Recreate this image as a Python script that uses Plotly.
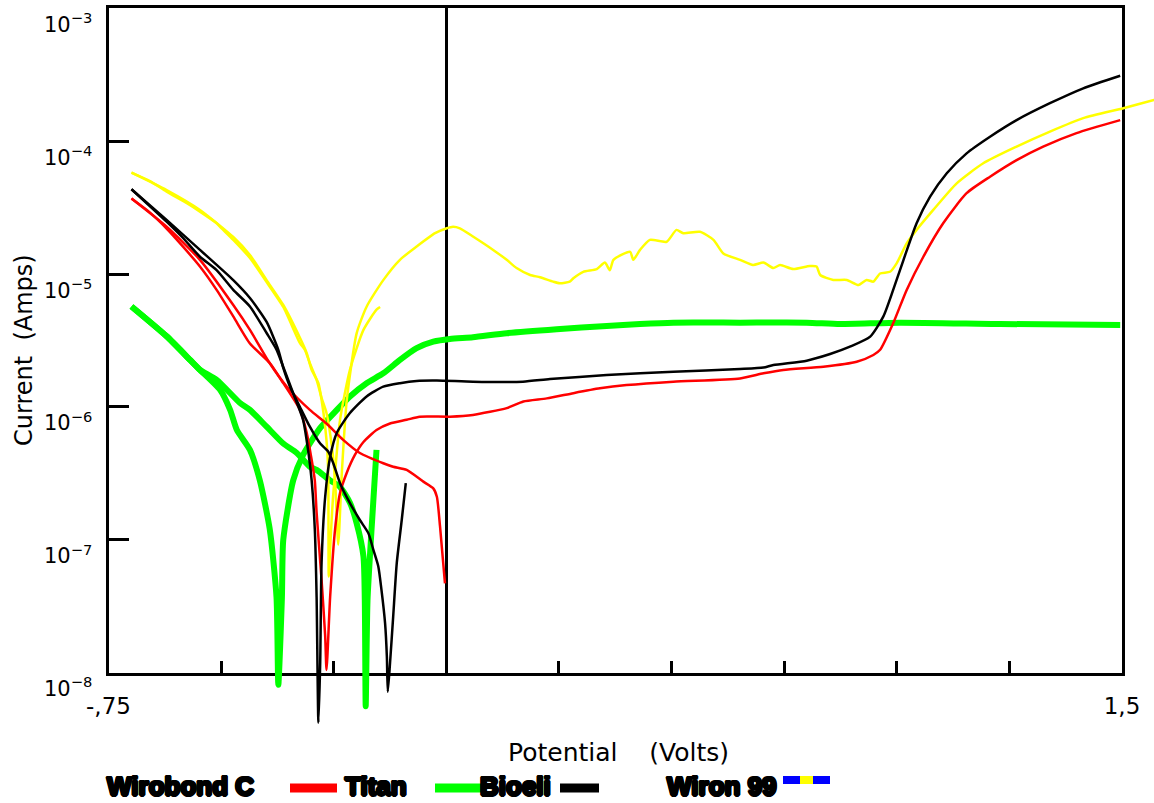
import plotly.graph_objects as go

W, H = 1154, 803

# ---------------- data (potential in V, current in A) ----------------
# Wirobond C (red) - scan 1 (full sweep) and scan 2 (short cathodic sweep)
wirobond1_v = [-0.699, -0.658, -0.621, -0.584, -0.547, -0.510, -0.473, -0.436, -0.392, -0.362,
               -0.325, -0.310, -0.299, -0.292, -0.288, -0.277, -0.269, -0.266, -0.258, -0.247,
               -0.236, -0.221, -0.203, -0.184, -0.155, -0.125, -0.088, -0.059, 0.008, 0.059,
               0.134, 0.171, 0.223, 0.282, 0.341, 0.400, 0.504, 0.652, 0.704, 0.748,
               0.837, 0.911, 0.948, 0.963, 0.992, 1.022, 1.059, 1.103, 1.155, 1.207,
               1.266, 1.325, 1.399, 1.496]
wirobond1_i = [3.7e-5, 2.9e-5, 2.2e-5, 1.6e-5, 1.14e-5, 7.6e-6, 4.8e-6, 3.0e-6, 2.14e-6, 1.51e-6,
               9.5e-7, 6.4e-7, 4.0e-7, 2.8e-7, 1.6e-7, 5.0e-8, 1.9e-8, 1.05e-8, 3.7e-8, 1.2e-7,
               2.25e-7, 3.2e-7, 4.35e-7, 5.45e-7, 6.7e-7, 7.5e-7, 8.0e-7, 8.45e-7, 8.45e-7, 8.7e-7,
               9.8e-7, 1.10e-6, 1.16e-6, 1.27e-6, 1.38e-6, 1.46e-6, 1.55e-6, 1.64e-6, 1.79e-6, 1.90e-6,
               2.01e-6, 2.19e-6, 2.46e-6, 2.69e-6, 4.26e-6, 7.6e-6, 1.35e-5, 2.41e-5, 4.06e-5, 5.4e-5,
               7.2e-5, 9.1e-5, 1.15e-4, 1.44e-4]
wirobond2_v = [-0.699, -0.621, -0.547, -0.473, -0.436, -0.392, -0.354, -0.303, -0.266, -0.229,
               -0.192, -0.140, -0.118, -0.088, -0.051, -0.029, -0.021, -0.014, -0.003]
wirobond2_i = [3.7e-5, 2.27e-5, 1.28e-5, 5.85e-6, 3.8e-6, 2.13e-6, 1.42e-6, 9.5e-7, 7.5e-7, 5.65e-7,
               4.5e-7, 3.77e-7, 3.55e-7, 3.36e-7, 2.74e-7, 2.44e-7, 2.11e-7, 1.26e-7, 4.7e-8]

# Titan (green)
titan1_v = [-0.699, -0.621, -0.569, -0.547, -0.502, -0.480, -0.465, -0.436, -0.414, -0.392,
            -0.377, -0.373, -0.365, -0.362, -0.340, -0.318, -0.280, -0.243, -0.214, -0.177,
            -0.140, -0.103, -0.066, -0.029, 0.008, 0.059, 0.134, 0.245, 0.356, 0.430,
            0.504, 0.652, 0.800, 0.874, 1.007, 1.229, 1.496]
titan1_i = [5.7e-6, 3.4e-6, 2.26e-6, 1.9e-6, 1.34e-6, 9.5e-7, 6.7e-7, 4.75e-7, 2.8e-7, 1.2e-7,
            3.7e-8, 8.1e-9, 3.7e-8, 1.0e-7, 2.8e-7, 4.35e-7, 6.95e-7, 9.5e-7, 1.2e-6, 1.51e-6,
            1.79e-6, 2.26e-6, 2.77e-6, 3.1e-6, 3.25e-6, 3.35e-6, 3.59e-6, 3.84e-6, 4.07e-6, 4.21e-6,
            4.31e-6, 4.31e-6, 4.31e-6, 4.21e-6, 4.31e-6, 4.21e-6, 4.14e-6]
titan2_v = [-0.699, -0.621, -0.569, -0.547, -0.510, -0.458, -0.436, -0.399, -0.362, -0.332,
            -0.303, -0.288, -0.258, -0.236, -0.214, -0.199, -0.184, -0.181, -0.179, -0.175,
            -0.166, -0.155]
titan2_i = [5.7e-6, 3.4e-6, 2.26e-6, 1.9e-6, 1.6e-6, 1.07e-6, 9.5e-7, 7.1e-7, 5.3e-7, 4.5e-7,
            3.55e-7, 3.36e-7, 2.8e-7, 2.5e-7, 1.9e-7, 1.33e-7, 7.5e-8, 3.5e-8, 5.6e-9, 3.5e-8,
            1.2e-7, 4.75e-7]

# Bioeli (black)
bioeli1_v = [-0.699, -0.621, -0.584, -0.547, -0.510, -0.473, -0.436, -0.399, -0.377, -0.362,
             -0.340, -0.318, -0.306, -0.299, -0.292, -0.288, -0.284, -0.280, -0.277, -0.269,
             -0.258, -0.243, -0.214, -0.177, -0.140, -0.103, -0.066, -0.021, 0.059, 0.170,
             0.230, 0.356, 0.504, 0.652, 0.704, 0.726, 0.800, 0.852, 0.896, 0.941,
             0.970, 0.992, 1.015, 1.044, 1.074, 1.111, 1.155, 1.207, 1.266, 1.340,
             1.414, 1.496]
bioeli1_i = [4.35e-5, 2.48e-5, 1.86e-5, 1.35e-5, 1.07e-5, 7.6e-6, 5.7e-6, 3.6e-6, 2.7e-6, 2.0e-6,
             1.27e-6, 8.0e-7, 4.5e-7, 2.8e-7, 1.2e-7, 3.7e-8, 4.2e-9, 1.2e-8, 6.7e-8, 2.1e-7,
             4.2e-7, 6.4e-7, 9.0e-7, 1.20e-6, 1.42e-6, 1.51e-6, 1.57e-6, 1.58e-6, 1.55e-6, 1.55e-6,
             1.62e-6, 1.74e-6, 1.84e-6, 1.93e-6, 1.98e-6, 2.07e-6, 2.23e-6, 2.50e-6, 2.84e-6, 3.38e-6,
             4.78e-6, 7.6e-6, 1.28e-5, 2.41e-5, 3.82e-5, 5.73e-5, 8.1e-5, 1.08e-4, 1.44e-4, 1.93e-4,
             2.50e-4, 3.11e-4]
bioeli2_v = [-0.699, -0.621, -0.547, -0.473, -0.436, -0.399, -0.373, -0.362, -0.347, -0.325,
             -0.303, -0.280, -0.262, -0.251, -0.236, -0.214, -0.192, -0.173, -0.162, -0.151,
             -0.144, -0.136, -0.132, -0.130, -0.125, -0.118, -0.110, -0.099, -0.090]
bioeli2_i = [4.35e-5, 2.55e-5, 1.52e-5, 9.0e-6, 6.6e-6, 4.36e-6, 2.69e-6, 1.97e-6, 1.42e-6, 1.0e-6,
             7.1e-7, 5.3e-7, 4.6e-7, 3.77e-7, 2.67e-7, 1.89e-7, 1.41e-7, 1.12e-7, 8.4e-8, 6.3e-8,
             4.2e-8, 2.36e-8, 1.32e-8, 7.2e-9, 1.18e-8, 2.64e-8, 6.7e-8, 1.41e-7, 2.67e-7]

# Wiron 99 (yellow)
wiron1_v = [-0.699, -0.658, -0.621, -0.576, -0.547, -0.510, -0.499, -0.473, -0.436, -0.399,
            -0.362, -0.325, -0.314, -0.303, -0.288, -0.277, -0.266, -0.254, -0.247, -0.240,
            -0.232, -0.221, -0.199, -0.177, -0.140, -0.103, -0.066, -0.025, 0.001, 0.015,
            0.030, 0.060, 0.104, 0.134, 0.156, 0.186, 0.208, 0.237, 0.252, 0.274,
            0.282, 0.304, 0.334, 0.352, 0.363, 0.371, 0.408, 0.415, 0.430, 0.452,
            0.489, 0.511, 0.526, 0.563, 0.593, 0.615, 0.652, 0.681, 0.704, 0.726,
            0.741, 0.770, 0.807, 0.822, 0.830, 0.859, 0.889, 0.915, 0.933, 0.948,
            0.963, 0.985, 1.000, 1.022, 1.044, 1.081, 1.133, 1.192, 1.266, 1.340,
            1.414, 1.503, 1.571, 1.595]
wiron1_i = [5.8e-5, 5.0e-5, 4.17e-5, 3.41e-5, 2.95e-5, 2.41e-5, 2.21e-5, 1.81e-5, 1.32e-5, 8.7e-6,
            5.65e-6, 3.02e-6, 2.69e-6, 2.13e-6, 1.60e-6, 1.17e-6, 9.0e-7, 5.0e-7, 2.8e-7, 9.2e-8,
            3.2e-7, 1.13e-6, 3.59e-6, 5.68e-6, 9.0e-6, 1.28e-5, 1.61e-5, 2.03e-5, 2.21e-5, 2.27e-5,
            2.21e-5, 1.91e-5, 1.52e-5, 1.28e-5, 1.11e-5, 9.84e-6, 9.46e-6, 8.77e-6, 8.53e-6, 8.77e-6,
            9.30e-6, 1.04e-5, 1.09e-5, 1.22e-5, 1.07e-5, 1.28e-5, 1.47e-5, 1.28e-5, 1.52e-5, 1.81e-5,
            1.75e-5, 2.15e-5, 2.03e-5, 2.08e-5, 1.81e-5, 1.43e-5, 1.28e-5, 1.17e-5, 1.22e-5, 1.11e-5,
            1.17e-5, 1.09e-5, 1.15e-5, 1.14e-5, 9.84e-6, 9.03e-6, 9.03e-6, 8.28e-6, 9.03e-6, 8.77e-6,
            1.01e-5, 1.04e-5, 1.21e-5, 1.70e-5, 2.15e-5, 3.04e-5, 4.82e-5, 6.82e-5, 9.1e-5, 1.18e-4,
            1.49e-4, 1.77e-4, 2.04e-4, 2.15e-4]
wiron2_v = [-0.699, -0.621, -0.547, -0.473, -0.436, -0.399, -0.362, -0.325, -0.310, -0.299,
            -0.284, -0.277, -0.269, -0.264, -0.262, -0.261, -0.257, -0.252, -0.247, -0.236,
            -0.214, -0.184, -0.155, -0.147]
wiron2_i = [5.8e-5, 4.29e-5, 3.04e-5, 1.9e-5, 1.39e-5, 9.0e-6, 5.85e-6, 3.31e-6, 2.54e-6, 1.9e-6,
            1.51e-6, 1.13e-6, 7.1e-7, 4.5e-7, 2.8e-7, 5.3e-8, 1.0e-7, 2.0e-7, 3.2e-7, 8.0e-7,
            1.9e-6, 3.8e-6, 5.4e-6, 5.65e-6]

# axis ticks / labels
x_label_vals = [-0.75, 1.5]
x_label_text = ["-,75", "1,5"]
x_minor_step = 0.25
y_tick_vals = [1e-8, 1e-7, 1e-6, 1e-5, 1e-4, 1e-3]
y_tick_text = ["10<sup>\u22128</sup>", "10<sup>\u22127</sup>", "10<sup>\u22126</sup>",
               "10<sup>\u22125</sup>", "10<sup>\u22124</sup>", "10<sup>\u22123</sup>"]
x_title = "Potential\u00a0\u00a0\u00a0 (Volts)"
y_title = "Current\u00a0 (Amps)"
legend_labels = ["Wirobond C", "Titan", "Bioeli", "Wiron 99"]

# ---------------- geometry (pixels) ----------------
FRAME_L, FRAME_R, FRAME_T, FRAME_B = 108.5, 1122.0, 8.3, 672.7
EXT_R, EXT_B = 1154.0, 740.0
X0, X1 = -0.75, 1.5
Y0, Y1 = -8.0, -3.0

def px(xp):
    return xp / W

def py(yp):
    return 1 - yp / H

x2_max = X0 + (EXT_R - FRAME_L) * (X1 - X0) / (FRAME_R - FRAME_L)
y2_min = Y0 - (EXT_B - FRAME_B) * (Y1 - Y0) / (FRAME_B - FRAME_T)

FONT = "DejaVu Sans, Liberation Sans, Arial, sans-serif"
LEG_FONT = "Liberation Sans, Arial, sans-serif"
RED, GREEN, BLACK, YELLOW, BLUE = "#ff0000", "#00ff00", "#000000", "#ffff00", "#0000ff"

fig = go.Figure()

# empty trace keeps the framed subplot alive
fig.add_trace(go.Scatter(x=[None], y=[None], xaxis="x", yaxis="y", showlegend=False,
                         hoverinfo="skip"))

series = [
    (titan1_v, titan1_i, GREEN, 6, "Titan"),
    (titan2_v, titan2_i, GREEN, 6, "Titan"),
    (wiron1_v, wiron1_i, YELLOW, 2.5, "Wiron 99"),
    (wiron2_v, wiron2_i, YELLOW, 2.5, "Wiron 99"),
    (wirobond1_v, wirobond1_i, RED, 2.5, "Wirobond C"),
    (wirobond2_v, wirobond2_i, RED, 2.5, "Wirobond C"),
    (bioeli1_v, bioeli1_i, BLACK, 2.5, "Bioeli"),
    (bioeli2_v, bioeli2_i, BLACK, 2.5, "Bioeli"),
]
for xv, yv, col, w, name in series:
    fig.add_trace(go.Scatter(x=xv, y=yv, mode="lines", name=name,
                             line=dict(color=col, width=w, shape="spline", smoothing=0.6),
                             xaxis="x2", yaxis="y2", showlegend=False,
                             hoverinfo="x+y+name"))

fig.update_layout(
    width=W, height=H,
    margin=dict(l=0, r=0, t=0, b=0, pad=0, autoexpand=False),
    paper_bgcolor="white",
    plot_bgcolor="rgba(0,0,0,0)",
    font=dict(family=FONT, color="black"),
    xaxis=dict(domain=[px(FRAME_L), px(FRAME_R)], range=[X0, X1], anchor="y",
               automargin=False,
               showline=True, linewidth=3, linecolor="black", mirror=True,
               ticks="inside", ticklen=12, tickwidth=3, tickcolor="black",
               tickmode="array", tickvals=x_label_vals, ticktext=x_label_text,
               minor=dict(ticks="inside", ticklen=12, tickwidth=3, tickcolor="black",
                          tickmode="linear", tick0=X0, dtick=x_minor_step, showgrid=False),
               tickfont=dict(size=23, family=FONT, color="black"),
               ticklabelstandoff=11,
               showgrid=False, zeroline=True, zerolinecolor="black", zerolinewidth=3,
               fixedrange=True),
    yaxis=dict(domain=[py(FRAME_B), py(FRAME_T)], type="log", range=[Y0, Y1], anchor="x",
               automargin=False,
               showline=True, linewidth=3, linecolor="black", mirror=True,
               ticks="inside", ticklen=20, tickwidth=3, tickcolor="black",
               tickmode="array", tickvals=y_tick_vals, ticktext=y_tick_text,
               ticklabelposition="outside bottom", ticklabelstandoff=9,
               tickfont=dict(size=21, family=FONT, color="black"),
               showgrid=False, zeroline=False, fixedrange=True),
    xaxis2=dict(domain=[px(FRAME_L), px(EXT_R)], range=[X0, x2_max], anchor="y2",
                visible=False, automargin=False, fixedrange=True),
    yaxis2=dict(domain=[py(EXT_B), py(FRAME_T)], type="log", range=[y2_min, Y1], anchor="x2",
                visible=False, automargin=False, fixedrange=True),
    showlegend=False,
)

annotations = [
    dict(text=x_title, xref="paper", yref="paper", x=px(618), y=py(752),
         xanchor="center", yanchor="middle", showarrow=False,
         font=dict(size=25, family=FONT, color="black")),
    dict(text=y_title, xref="paper", yref="paper", x=px(24), y=py(350),
         xanchor="center", yanchor="middle", textangle=-90, showarrow=False,
         font=dict(size=24, family=FONT, color="black")),
]
legend_x = [106, 344, 479, 666]
heavy = ("1.5px 0 0 black, -1.5px 0 0 black, 0 1.5px 0 black, 0 -1.5px 0 black, "
         "1px 1px 0 black, -1px -1px 0 black, 1px -1px 0 black, -1px 1px 0 black")
for lab, lx in zip(legend_labels, legend_x):
    annotations.append(dict(text=lab, xref="paper", yref="paper", x=px(lx), y=py(786),
                            xanchor="left", yanchor="middle", showarrow=False, borderpad=0,
                            font=dict(size=26, family=LEG_FONT, weight="bold",
                                      color="black", shadow=heavy)))
fig.update_layout(annotations=annotations)

shapes = []
for (xa, xb, yy, col, w) in [(290, 337, 788, RED, 9), (435, 482, 788, GREEN, 9),
                             (560, 599, 788, BLACK, 9), (783, 800, 780, BLUE, 8),
                             (800, 813, 780, YELLOW, 8), (813, 830, 780, BLUE, 8)]:
    shapes.append(dict(type="line", xref="paper", yref="paper",
                       x0=px(xa), x1=px(xb), y0=py(yy), y1=py(yy),
                       line=dict(color=col, width=w)))
fig.update_layout(shapes=shapes)

fig.write_html("out.html",
               config={"displayModeBar": False, "staticPlot": False},
               post_script="document.body.style.margin='0px';"
                           "document.body.style.overflow='hidden';")
